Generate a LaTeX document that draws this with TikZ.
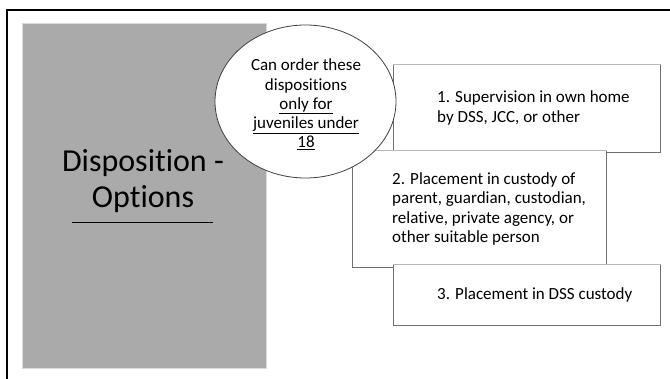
\documentclass[tikz,border=0pt]{standalone}
\usepackage{fontspec}
\setmainfont{Carlito}[Ligatures={NoCommon}]
\usetikzlibrary{shapes.geometric}
\definecolor{panelgray}{HTML}{AAAAAA}
\definecolor{paneledge}{HTML}{DADADA}
\definecolor{boxedge}{HTML}{707070}
\definecolor{boxtop}{HTML}{B8B8B8}
\definecolor{ellipseedge}{HTML}{404040}
\tikzset{
  optbox/.style={draw=boxedge, line width=0.9pt, fill=white, anchor=north west, inner sep=0pt},
  boxtext/.style={anchor=west, align=left, inner sep=0pt, font=\fontsize{17}{19.3}\selectfont},
  topedge/.style={draw=boxtop, line width=0.9pt},
}
\begin{document}
\begin{tikzpicture}[x=1pt,y=-1pt]
\useasboundingbox (0,0) rectangle (670,379);
% frame
\coordinate (ftr) at (671,10);
\coordinate (ftl) at (7,10);
\coordinate (fbl) at (7,380);
\draw[line width=2.2pt] (ftr) -- (ftl) -- (fbl);
% grey panel
\node[draw=paneledge, line width=1.2pt, fill=panelgray, anchor=north west, minimum width=244pt, minimum height=345pt, inner sep=0pt] (panel) at (22,23) {};
\node[align=center, inner sep=0pt, font=\fontsize{32}{36}\selectfont] (title) at (143,181) {Disposition -\\Options};
\coordinate (ul1) at (72,222.5);
\coordinate (ul2) at (213,222.5);
\draw[line width=1.7pt] (ul1) -- (ul2);
% boxes
\node[optbox, minimum width=267pt, minimum height=88pt] (b1) at (393,64) {};
\draw[topedge] (b1.north west) -- (b1.north east);
\node[optbox, minimum width=254pt, minimum height=117pt] (b2) at (352,150) {};
\draw[topedge] (b2.north west) -- (b2.north east);
\node[optbox, minimum width=267pt, minimum height=61pt] (b3) at (393,264) {};
\draw[topedge] (b3.north west) -- (b3.north east);
\node[boxtext] (t1) at (437,108) {1. Supervision in own home\\by DSS, JCC, or other};
\node[boxtext] (t2) at (392,209) {2. Placement in custody of\\parent, guardian, custodian,\\relative, private agency, or\\other suitable person};
\node[boxtext] (t3) at (437,294.5) {3. Placement in DSS custody};
% ellipse
\node[ellipse, draw=ellipseedge, line width=0.8pt, fill=white, minimum width=181pt, minimum height=153pt, inner sep=0pt] (ell) at (305.5,101.5) {};
\node[align=center, inner sep=0pt, font=\fontsize{17}{19.3}\selectfont] (etext) at (306,104.5) {Can order these\\dispositions\\\underline{only for}\\\underline{juveniles under}\\\underline{18}};
\end{tikzpicture}
\end{document}
